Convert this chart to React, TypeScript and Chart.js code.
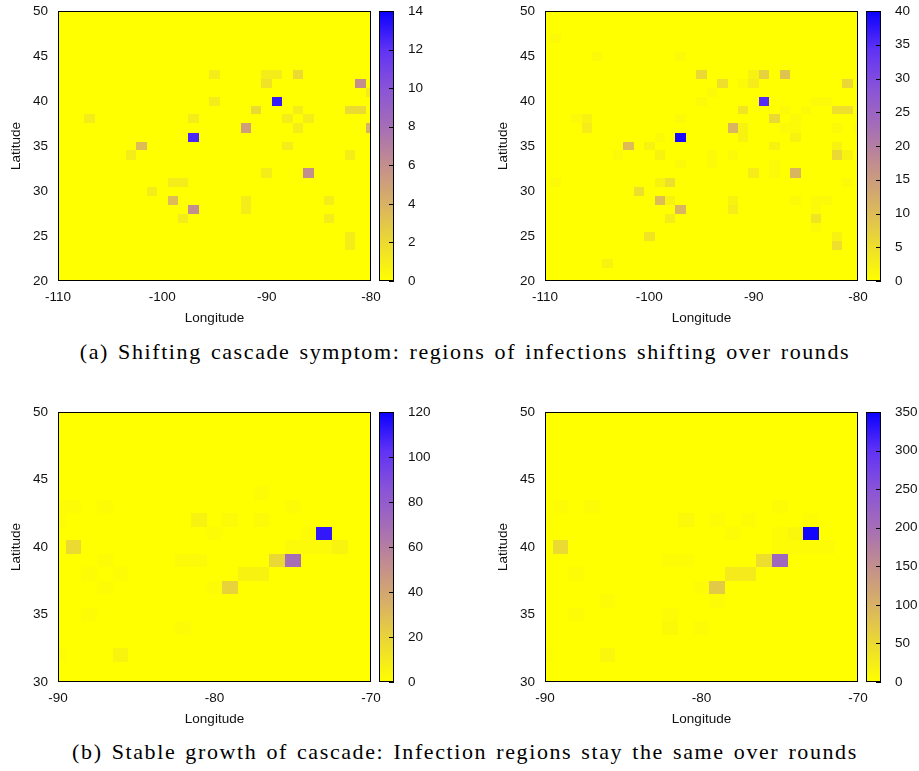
import React, { useEffect, useRef } from 'react';
import { Chart, registerables } from 'chart.js';

Chart.register(...registerables);

// ---------- Panel (a) left: round 1 of the shifting cascade ----------
const lonA1 = [
  -95, -90, -89, -87,
  -90, -81,
  -80,
  -89, -95,
  -91, -87, -82, -81,
  -107, -97, -88, -86,
  -92, -87, -80,
  -97,
  -102, -88,
  -103, -82,
  -90, -86,
  -99, -98,
  -101,
  -99, -92, -84,
  -92, -97,
  -98, -84,
  -82,
  -82,
];
const latA1 = [
  43, 43, 43, 43,
  42, 42,
  41,
  40, 40,
  39, 39, 39, 39,
  38, 38, 38, 38,
  37, 37, 37,
  36,
  35, 35,
  34, 34,
  32, 32,
  31, 31,
  30,
  29, 29, 29,
  28, 28,
  27, 27,
  25,
  24,
];
const valA1 = [
  1, 1, 1, 2,
  1.5, 6,
  1,
  13, 1,
  2, 1, 2, 2,
  1, 1, 1, 1,
  5, 1, 4,
  12.5,
  3.5, 1,
  1, 1,
  1, 6,
  1, 1,
  1,
  3.5, 1, 1,
  1, 6,
  1, 1,
  1,
  1,
];

// ---------- Panel (a) right: a later round of the shifting cascade ----------
const lonA2 = [
  -109,
  -105, -97,
  -95, -90, -89, -87,
  -93, -91, -90, -81,
  -94,
  -95, -89, -84, -83,
  -91, -87, -85, -82, -81,
  -107, -106, -97, -88, -86,
  -106, -92, -91, -87, -86, -82, -80,
  -99, -97, -91, -86,
  -102, -100, -88, -82,
  -103, -99, -94, -92, -82, -81,
  -97, -94, -88,
  -90, -88, -86,
  -109, -99, -98, -81,
  -101,
  -99, -98, -92, -86, -84, -83,
  -97, -92, -84,
  -98, -84,
  -84,
  -100, -82,
  -82,
  -104,
];
const latA2 = [
  47,
  45, 45,
  43, 43, 43, 43,
  42, 42, 42, 42,
  41,
  40, 40, 40, 40,
  39, 39, 39, 39, 39,
  38, 38, 38, 38, 38,
  37, 37, 37, 37, 37, 37, 37,
  36, 36, 36, 36,
  35, 35, 35, 35,
  34, 34, 34, 34, 34, 34,
  33, 33, 33,
  32, 32, 32,
  31, 31, 31, 31,
  30,
  29, 29, 29, 29, 29, 29,
  28, 28, 28,
  27, 27,
  26,
  25, 25,
  24,
  22,
];
const valA2 = [
  1,
  1, 1,
  6, 2, 7, 9,
  5, 1, 3, 6,
  1,
  1, 35, 1, 1,
  4, 1, 1, 5, 5,
  1, 2, 1, 6, 1,
  3, 11, 2, 1, 1, 1, 1,
  1, 39, 2, 2,
  10, 2, 2, 2,
  1, 2, 1, 1, 6, 2,
  1, 1, 1,
  3, 1, 11,
  1, 2, 5, 1,
  5,
  10, 2, 2, 1, 1, 1,
  11, 3, 1,
  3, 4,
  1,
  4, 2,
  5,
  2,
];

// ---------- Panel (b) left: stable growth, early round ----------
const lonB1 = [
  -77,
  -90, -89, -87, -75,
  -90, -81, -79, -77,
  -80, -74, -73,
  -89, -75, -74, -73, -72,
  -87, -82, -81, -76, -75,
  -88, -86, -78, -77,
  -87, -80, -79,
  -88,
  -82,
  -90, -86,
];
const latB1 = [
  44,
  43, 43, 43, 43,
  42, 42, 42, 42,
  41, 41, 41,
  40, 40, 40, 40, 40,
  39, 39, 39, 39, 39,
  38, 38, 38, 38,
  37, 37, 37,
  35,
  34,
  32, 32,
];
const valB1 = [
  2,
  2, 2, 2, 2,
  2, 6, 3, 3,
  2, 2, 112,
  17, 3, 3, 3, 5,
  2, 3, 3, 18, 68,
  2, 2, 6, 6,
  2, 2, 20,
  2,
  2,
  2, 5,
];

// ---------- Panel (b) right: stable growth, later round ----------
const lonB2 = [
  -89, -87, -75,
  -90, -81, -79, -77, -73,
  -78, -75, -74, -73,
  -89, -75, -74, -73, -72,
  -82, -81, -76, -75,
  -88, -78, -77,
  -80, -79,
  -86, -79,
  -88, -82,
  -82, -80,
  -90, -86,
];
const latB2 = [
  43, 43, 43,
  42, 42, 42, 42, 42,
  41, 41, 41, 41,
  40, 40, 40, 40, 40,
  39, 39, 39, 39,
  38, 38, 38,
  37, 37,
  36, 36,
  35, 35,
  34, 34,
  32, 32,
];
const valB2 = [
  5, 5, 5,
  3, 10, 5, 5, 4,
  5, 5, 12, 345,
  50, 6, 6, 6, 6,
  5, 5, 45, 210,
  5, 28, 28,
  6, 70,
  5, 5,
  5, 5,
  8, 6,
  4, 12,
];

// ---------- Axis ranges / colour bar ranges ----------
const xRangeA = [-110, -80];
const yRangeA = [20, 50];
const xRangeB = [-90, -70];
const yRangeB = [30, 50];
const cbMaxA1 = 14, cbStepA1 = 2;
const cbMaxA2 = 40, cbStepA2 = 5;
const cbMaxB1 = 120, cbStepB1 = 20;
const cbMaxB2 = 350, cbStepB2 = 50;

const captionA = '(a) Shifting cascade symptom: regions of infections shifting over rounds';
const captionB = '(b) Stable growth of cascade: Infection regions stay the same over rounds';

// yellow -> tan -> purple -> blue palette
const PALETTE: [number, number, number, number][] = [
  [0.0, 255, 255, 0],
  [0.143, 235, 218, 50],
  [0.286, 216, 178, 100],
  [0.43, 195, 142, 142],
  [0.57, 165, 110, 182],
  [0.71, 138, 84, 215],
  [0.857, 95, 50, 245],
  [1.0, 10, 0, 255],
];

function paletteColor(f: number): string {
  const t = Math.max(0, Math.min(1, f));
  for (let i = 1; i < PALETTE.length; i++) {
    const a = PALETTE[i - 1], b = PALETTE[i];
    if (t <= b[0]) {
      const u = (t - a[0]) / (b[0] - a[0]);
      const r = Math.round(a[1] + (b[1] - a[1]) * u);
      const g = Math.round(a[2] + (b[2] - a[2]) * u);
      const bl = Math.round(a[3] + (b[3] - a[3]) * u);
      return `rgb(${r},${g},${bl})`;
    }
  }
  return 'rgb(10,0,255)';
}

const CW = 432;
const CH = 330;
const PLOT_RIGHT = 371;
const PLOT_LEFT = 58;
const PLOT_TOP = 11;
const PLOT_BOTTOM = 281;
const TICK_FONT = { family: '"Liberation Sans", Arial, sans-serif', size: 13.5 };
const TITLE_FONT = { family: '"Liberation Sans", Arial, sans-serif', size: 13.5 };
const TEXT_COLOR = '#111';

const heatPlugin = {
  id: 'heatCells',
  beforeDatasetsDraw(chart: any) {
    const { ctx, chartArea } = chart;
    const xs = chart.scales.x;
    const ys = chart.scales.y;
    const cbMax = chart.scales.cb.max;
    ctx.save();
    ctx.beginPath();
    ctx.rect(chartArea.left, chartArea.top, chartArea.right - chartArea.left, chartArea.bottom - chartArea.top);
    ctx.clip();
    ctx.fillStyle = paletteColor(0);
    ctx.fillRect(chartArea.left, chartArea.top, chartArea.right - chartArea.left, chartArea.bottom - chartArea.top);
    const data = chart.data.datasets[0].data as any[];
    for (const p of data) {
      const x0 = Math.round(xs.getPixelForValue(p.x - 0.5));
      const x1 = Math.round(xs.getPixelForValue(p.x + 0.5));
      const y0 = Math.round(ys.getPixelForValue(p.y + 0.5));
      const y1 = Math.round(ys.getPixelForValue(p.y - 0.5));
      ctx.fillStyle = paletteColor(p.v / cbMax);
      ctx.fillRect(x0, y0, x1 - x0, y1 - y0);
    }
    ctx.restore();
  },
  afterDraw(chart: any) {
    const { ctx, chartArea } = chart;
    ctx.save();
    ctx.strokeStyle = '#000';
    ctx.lineWidth = 1;
    ctx.strokeRect(chartArea.left + 0.5, chartArea.top + 0.5, chartArea.right - chartArea.left - 1, chartArea.bottom - chartArea.top - 1);
    // colour bar
    const cb = chart.scales.cb;
    const bx = cb.left + 8;
    const bw = 15;
    const top = cb.top;
    const bottom = cb.bottom;
    const grad = ctx.createLinearGradient(0, bottom, 0, top);
    for (const s of PALETTE) grad.addColorStop(s[0], `rgb(${s[1]},${s[2]},${s[3]})`);
    ctx.fillStyle = grad;
    ctx.fillRect(bx, top, bw, bottom - top);
    ctx.strokeRect(bx + 0.5, top + 0.5, bw - 1, bottom - top - 1);
    ctx.beginPath();
    for (const t of cb.ticks) {
      const y = Math.round(cb.getPixelForValue(t.value)) + 0.5;
      ctx.moveTo(bx + bw - 5, y);
      ctx.lineTo(bx + bw, y);
    }
    ctx.stroke();
    ctx.restore();
  },
};

type PanelProps = {
  left: number;
  top: number;
  lon: number[];
  lat: number[];
  val: number[];
  xRange: number[];
  yRange: number[];
  xStep: number;
  yStep: number;
  cbMax: number;
  cbStep: number;
};

function zeroPad(s: any) {
  s.paddingTop = 0;
  s.paddingBottom = 0;
  s.paddingLeft = 0;
  s.paddingRight = 0;
}

function Panel(props: PanelProps) {
  const ref = useRef<HTMLCanvasElement>(null);
  useEffect(() => {
    if (!ref.current) return;
    const pts = props.lon.map((x, i) => ({ x, y: props.lat[i], v: props.val[i] }));
    const chart = new Chart(ref.current, {
      type: 'scatter',
      data: { datasets: [{ data: pts as any, pointRadius: 0, pointHoverRadius: 0, showLine: false }] },
      options: {
        animation: false,
        responsive: false,
        maintainAspectRatio: false,
        events: [],
        layout: { padding: { top: PLOT_TOP, left: 0, right: 0, bottom: 0 } },
        plugins: { legend: { display: false }, tooltip: { enabled: false } },
        scales: {
          x: {
            type: 'linear',
            position: 'bottom',
            min: props.xRange[0],
            max: props.xRange[1],
            grid: { display: false, drawTicks: false },
            border: { display: false },
            ticks: { stepSize: props.xStep, padding: 8, font: TICK_FONT, color: TEXT_COLOR, maxRotation: 0, autoSkip: false },
            title: { display: true, text: 'Longitude', font: TITLE_FONT, color: TEXT_COLOR, padding: { top: 0, bottom: 4 } },
            afterFit: (s: any) => { s.height = CH - PLOT_BOTTOM; zeroPad(s); },
          },
          y: {
            type: 'linear',
            position: 'left',
            min: props.yRange[0],
            max: props.yRange[1],
            grid: { display: false, drawTicks: false },
            border: { display: false },
            ticks: { stepSize: props.yStep, padding: 10, font: TICK_FONT, color: TEXT_COLOR, autoSkip: false },
            title: { display: true, text: 'Latitude', font: TITLE_FONT, color: TEXT_COLOR, padding: { top: 8, bottom: 0 } },
            afterFit: (s: any) => { s.width = PLOT_LEFT; zeroPad(s); },
          },
          cb: {
            type: 'linear',
            position: 'right',
            min: 0,
            max: props.cbMax,
            grid: { display: false, drawTicks: false },
            border: { display: false },
            ticks: { stepSize: props.cbStep, padding: 37, font: TICK_FONT, color: TEXT_COLOR, autoSkip: false },
            afterFit: (s: any) => { s.width = CW - PLOT_RIGHT; zeroPad(s); },
          },
        },
      } as any,
      plugins: [heatPlugin],
    });
    return () => chart.destroy();
  }, []);
  return (
    <canvas
      ref={ref}
      width={CW}
      height={CH}
      style={{ position: 'absolute', left: props.left, top: props.top, width: CW, height: CH }}
    />
  );
}

const captionStyle: React.CSSProperties = {
  position: 'absolute',
  left: 0,
  width: 930,
  textAlign: 'center',
  fontFamily: '"Liberation Serif", "Times New Roman", serif',
  fontSize: 22,
  lineHeight: '26px',
  letterSpacing: '1.6px',
  wordSpacing: '2px',
  color: '#000',
  whiteSpace: 'nowrap',
};

export default function App() {
  return (
    <div style={{ position: 'absolute', left: 0, top: 0, width: 919, height: 771, background: '#fff', overflow: 'hidden' }}>
      <Panel left={0} top={0} lon={lonA1} lat={latA1} val={valA1} xRange={xRangeA} yRange={yRangeA} xStep={10} yStep={5} cbMax={cbMaxA1} cbStep={cbStepA1} />
      <Panel left={487} top={0} lon={lonA2} lat={latA2} val={valA2} xRange={xRangeA} yRange={yRangeA} xStep={10} yStep={5} cbMax={cbMaxA2} cbStep={cbStepA2} />
      <div style={{ ...captionStyle, top: 339 }}>{captionA}</div>
      <Panel left={0} top={401} lon={lonB1} lat={latB1} val={valB1} xRange={xRangeB} yRange={yRangeB} xStep={10} yStep={5} cbMax={cbMaxB1} cbStep={cbStepB1} />
      <Panel left={487} top={401} lon={lonB2} lat={latB2} val={valB2} xRange={xRangeB} yRange={yRangeB} xStep={10} yStep={5} cbMax={cbMaxB2} cbStep={cbStepB2} />
      <div style={{ ...captionStyle, top: 739 }}>{captionB}</div>
    </div>
  );
}
